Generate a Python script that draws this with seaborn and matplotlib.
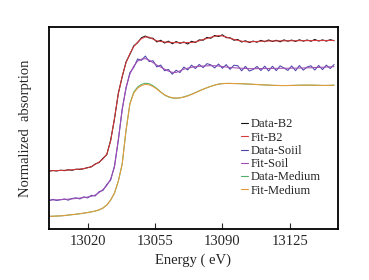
import numpy as np
import pandas as pd
import matplotlib
matplotlib.use("Agg")
import matplotlib.pyplot as plt
import seaborn as sns

# energy grid (eV) and curves (arbitrary normalized units)
energy = list(range(13000, 13150, 2))

fit_b2 = [0.583, 0.584, 0.585, 0.586, 0.588, 0.590, 0.593, 0.596, 0.600, 0.605,
          0.612, 0.625, 0.647, 0.670, 0.702, 0.750, 0.880, 1.110, 1.353, 1.530,
          1.665, 1.755, 1.825, 1.870, 1.905, 1.922, 1.920, 1.900, 1.883, 1.877,
          1.872, 1.869, 1.867, 1.865, 1.865, 1.865, 1.866, 1.867, 1.872, 1.884,
          1.897, 1.907, 1.918, 1.928, 1.935, 1.932, 1.922, 1.908, 1.898, 1.888,
          1.880, 1.874, 1.873, 1.875, 1.877, 1.879, 1.880, 1.881, 1.882, 1.882,
          1.883, 1.883, 1.884, 1.884, 1.884, 1.885, 1.885, 1.885, 1.886, 1.886,
          1.886, 1.886, 1.887, 1.887, 1.887]
data_b2 = [0.578, 0.586, 0.581, 0.589, 0.584, 0.593, 0.588, 0.599, 0.597, 0.603,
           0.615, 0.622, 0.651, 0.666, 0.708, 0.744, 0.889, 1.102, 1.361, 1.522,
           1.672, 1.748, 1.833, 1.864, 1.914, 1.931, 1.912, 1.909, 1.872, 1.889,
           1.861, 1.880, 1.854, 1.876, 1.858, 1.872, 1.851, 1.879, 1.866, 1.893,
           1.889, 1.918, 1.909, 1.937, 1.926, 1.944, 1.915, 1.914, 1.889, 1.897,
           1.871, 1.884, 1.866, 1.881, 1.869, 1.888, 1.874, 1.892, 1.876, 1.889,
           1.873, 1.893, 1.879, 1.891, 1.877, 1.894, 1.880, 1.892, 1.879, 1.897,
           1.881, 1.893, 1.880, 1.895, 1.884]

fit_soil = [0.290, 0.291, 0.292, 0.294, 0.296, 0.299, 0.302, 0.306, 0.310, 0.315,
            0.320, 0.328, 0.340, 0.365, 0.395, 0.435, 0.500, 0.620, 0.900, 1.190,
            1.420, 1.550, 1.630, 1.680, 1.700, 1.705, 1.690, 1.665, 1.640, 1.620,
            1.600, 1.580, 1.568, 1.567, 1.582, 1.600, 1.610, 1.618, 1.625, 1.628,
            1.631, 1.633, 1.635, 1.634, 1.631, 1.626, 1.621, 1.617, 1.614, 1.611,
            1.609, 1.607, 1.605, 1.605, 1.605, 1.606, 1.606, 1.607, 1.607, 1.608,
            1.608, 1.609, 1.609, 1.610, 1.610, 1.611, 1.612, 1.613, 1.614, 1.616,
            1.617, 1.619, 1.621, 1.623, 1.625]
data_soil = [0.284, 0.297, 0.286, 0.293, 0.301, 0.289, 0.306, 0.312, 0.301, 0.322,
             0.311, 0.337, 0.331, 0.374, 0.386, 0.446, 0.489, 0.633, 0.887, 1.204,
             1.408, 1.566, 1.617, 1.702, 1.688, 1.731, 1.676, 1.684, 1.622, 1.641,
             1.584, 1.597, 1.549, 1.589, 1.566, 1.621, 1.592, 1.640, 1.606, 1.647,
             1.615, 1.655, 1.643, 1.612, 1.651, 1.609, 1.645, 1.598, 1.639, 1.634,
             1.583, 1.628, 1.581, 1.597, 1.627, 1.586, 1.630, 1.582, 1.629, 1.585,
             1.633, 1.611, 1.587, 1.632, 1.584, 1.636, 1.590, 1.621, 1.634, 1.591,
             1.637, 1.595, 1.640, 1.606, 1.646]

fit_medium = [0.127, 0.128, 0.130, 0.132, 0.135, 0.140, 0.144, 0.148, 0.153, 0.159,
              0.165, 0.172, 0.180, 0.192, 0.210, 0.240, 0.290, 0.360, 0.480, 0.650,
              0.990, 1.250, 1.360, 1.410, 1.435, 1.447, 1.443, 1.425, 1.400, 1.370,
              1.343, 1.325, 1.314, 1.310, 1.313, 1.320, 1.332, 1.347, 1.364, 1.382,
              1.398, 1.414, 1.428, 1.440, 1.450, 1.455, 1.457, 1.457, 1.456, 1.455,
              1.454, 1.452, 1.450, 1.448, 1.446, 1.444, 1.442, 1.440, 1.438, 1.437,
              1.436, 1.436, 1.436, 1.437, 1.438, 1.439, 1.440, 1.440, 1.440, 1.439,
              1.438, 1.437, 1.437, 1.438, 1.439]
data_medium = [0.127, 0.128, 0.130, 0.132, 0.135, 0.140, 0.144, 0.148, 0.153, 0.159,
               0.165, 0.172, 0.180, 0.192, 0.210, 0.240, 0.290, 0.360, 0.480, 0.652,
               0.988, 1.256, 1.370, 1.421, 1.447, 1.459, 1.454, 1.434, 1.406, 1.372,
               1.341, 1.322, 1.311, 1.309, 1.313, 1.322, 1.334, 1.349, 1.365, 1.383,
               1.399, 1.414, 1.428, 1.440, 1.450, 1.455, 1.457, 1.457, 1.456, 1.455,
               1.454, 1.452, 1.450, 1.448, 1.446, 1.444, 1.442, 1.440, 1.438, 1.437,
               1.436, 1.436, 1.436, 1.437, 1.438, 1.439, 1.440, 1.440, 1.440, 1.439,
               1.438, 1.437, 1.437, 1.438, 1.439]

series_names = ["Data-B2", "Fit-B2", "Data-Soiil", "Fit-Soil", "Data-Medium", "Fit-Medium"]
series_values = [data_b2, fit_b2, data_soil, fit_soil, data_medium, fit_medium]
colors = ["#111111", "#d9383a", "#4a45a8", "#a24db5", "#4fae68", "#e89a3a"]
x_ticks = [13020, 13055, 13090, 13125]

# long-form table for seaborn
frames = []
for name, vals in zip(series_names, series_values):
    frames.append(pd.DataFrame({"Energy": energy, "Absorption": vals, "Series": name}))
df = pd.concat(frames, ignore_index=True)

sns.set_style("white")
plt.rcParams["font.family"] = ["Liberation Serif", "DejaVu Serif"]

fig = plt.figure(figsize=(3.69, 2.80), dpi=100)
ax = fig.add_axes([0.1328, 0.182, 0.783, 0.721])

sns.lineplot(data=df, x="Energy", y="Absorption", hue="Series",
             hue_order=series_names, palette=dict(zip(series_names, colors)),
             linewidth=0.75, ax=ax)

ax.set_xlim(13000, 13150)
ax.set_ylim(0, 2.02)
ax.set_xticks(x_ticks)
ax.set_yticks([])
ax.tick_params(axis="x", direction="in", length=4, width=0.8, pad=4,
               labelsize=10.5, bottom=True, top=False)
for sp in ax.spines.values():
    sp.set_linewidth(1.3)
    sp.set_color("black")

ax.set_xlabel("Energy ( eV)", fontsize=10.5, labelpad=4)
ax.set_ylabel("Normalized  absorption", fontsize=10.5, labelpad=12)

leg = ax.legend(loc="upper left", bbox_to_anchor=(0.664, 0.548), frameon=False,
                fontsize=9, handlelength=0.55, handletextpad=0.2,
                labelspacing=0.1, borderpad=0, borderaxespad=0)
for line in leg.get_lines():
    line.set_linewidth(0.8)

fig.savefig("out.png", dpi=100)
